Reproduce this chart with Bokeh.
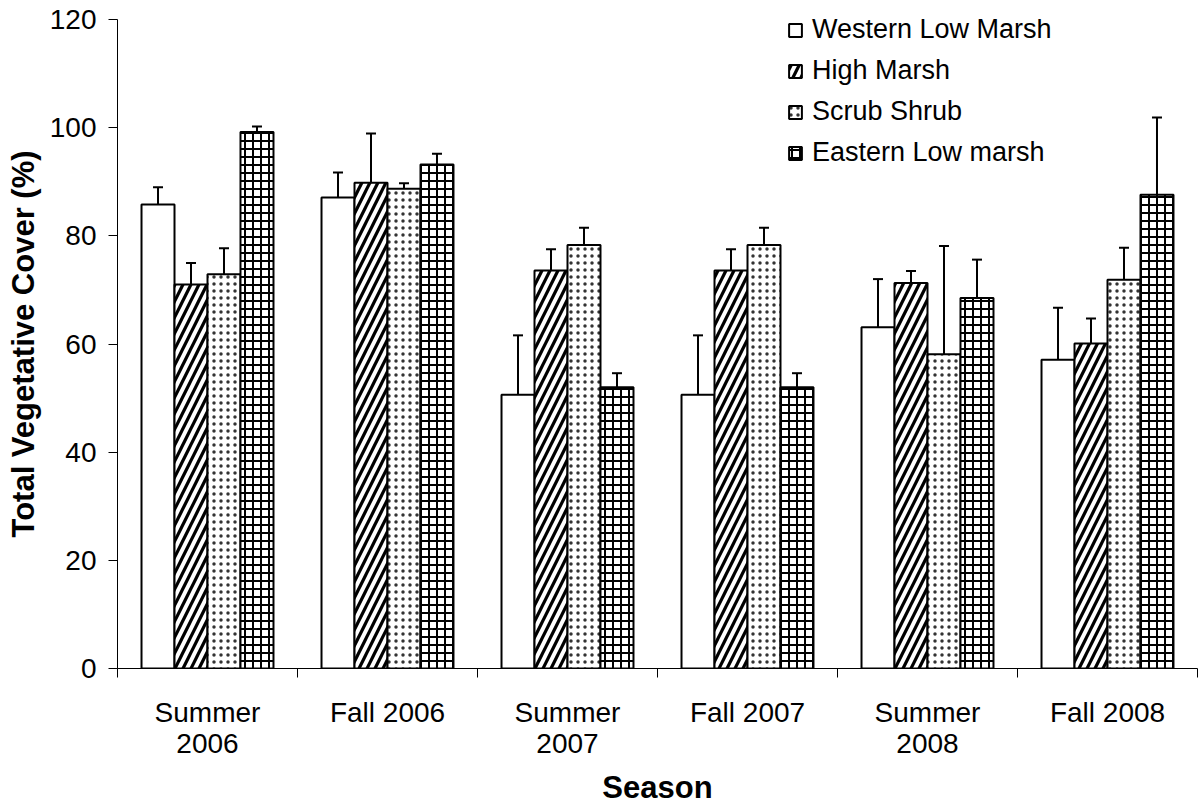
from bokeh.plotting import figure
from bokeh.models import (ColumnDataSource, Range1d, FixedTicker, Whisker, TeeHead,
                          LinearAxis)
from bokeh.embed import file_html
from bokeh.resources import INLINE

# Seasons sampled and mean total vegetative cover (%) with standard error
seasons = ["Summer 2006", "Fall 2006", "Summer 2007", "Fall 2007", "Summer 2008", "Fall 2008"]
season_labels = ["Summer\n2006", "Fall 2006", "Summer\n2007", "Fall 2007", "Summer\n2008", "Fall 2008"]

western = [85.8, 87.1, 50.6, 50.6, 63.1, 57.1]
western_se = [3.2, 4.6, 11.0, 11.0, 8.9, 9.6]
high = [71.0, 89.8, 73.6, 73.6, 71.3, 60.1]
high_se = [4.0, 9.1, 3.9, 3.9, 2.2, 4.6]
scrub = [72.9, 88.7, 78.3, 78.3, 58.1, 71.9]
scrub_se = [4.8, 1.0, 3.2, 3.2, 20.0, 5.9]
eastern = [99.2, 93.2, 52.0, 52.0, 68.5, 87.6]
eastern_se = [1.0, 2.0, 2.6, 2.6, 7.1, 14.3]

y_ticks = [0, 20, 40, 60, 80, 100, 120]

FONT = "Liberation Sans"

p = figure(width=1199, height=809, output_backend="svg", toolbar_location=None,
           x_range=Range1d(0, len(seasons)), y_range=Range1d(0, 120),
           min_border_left=117, min_border_right=2, min_border_top=19,
           min_border_bottom=141, x_axis_type=None, y_axis_type=None)
p.outline_line_color = None
p.grid.visible = False

# y axis
yax = LinearAxis(ticker=FixedTicker(ticks=y_ticks, minor_ticks=[]))
yax.axis_label = "Total Vegetative Cover (%)"
yax.axis_label_text_font = FONT
yax.axis_label_text_font_style = "bold"
yax.axis_label_text_font_size = "31px"
yax.axis_label_text_color = "black"
yax.axis_label_standoff = 6
yax.major_label_text_font = FONT
yax.major_label_text_font_size = "28px"
yax.major_label_text_color = "black"
yax.major_label_standoff = 12
yax.major_tick_out = 9
yax.major_tick_in = 0
yax.axis_line_width = 1
p.add_layout(yax, "left")

# x axis: labels at category centres, tick marks on category boundaries
centers = [i + 0.5 for i in range(len(seasons))]
bounds = [i for i in range(len(seasons) + 1)]
xax = LinearAxis(ticker=FixedTicker(ticks=centers, minor_ticks=bounds))
xax.major_label_overrides = {c: lab for c, lab in zip(centers, season_labels)}
xax.axis_label = "Season"
xax.axis_label_text_font = FONT
xax.axis_label_text_font_style = "bold"
xax.axis_label_text_font_size = "31px"
xax.axis_label_text_color = "black"
xax.axis_label_standoff = 8
xax.major_label_text_font = FONT
xax.major_label_text_font_size = "28px"
xax.major_label_text_color = "black"
xax.major_label_text_line_height = 1.0
xax.major_label_standoff = 19
xax.major_tick_out = 0
xax.major_tick_in = 0
xax.minor_tick_out = 9
xax.minor_tick_in = 0
p.add_layout(xax, "below")

series = [
    ("Western Low Marsh", western, western_se, dict(hatch_pattern=None)),
    ("High Marsh", high, high_se, dict(hatch_pattern="/", hatch_scale=16, hatch_weight=3.2,
                                       hatch_color="black")),
    ("Scrub Shrub", scrub, scrub_se, dict(hatch_pattern=".", hatch_scale=7, hatch_weight=0.8,
                                          hatch_color="#333333")),
    ("Eastern Low marsh", eastern, eastern_se, dict(hatch_pattern="+", hatch_scale=8, hatch_weight=2,
                                                   hatch_color="black")),
]

bar_w = 0.1833
for k, (name, vals, ses, style) in enumerate(series):
    off = (k - 1.5) * bar_w
    src = ColumnDataSource(dict(
        x=[c + off for c in centers],
        top=vals,
        upper=[v + e for v, e in zip(vals, ses)],
    ))
    kw = {a: b for a, b in style.items() if b is not None}
    p.vbar(x="x", top="top", width=bar_w, source=src, fill_color="white",
           line_color="black", line_width=2, legend_label=name, **kw)
    p.add_layout(Whisker(source=src, base="x", lower="top", upper="upper",
                         dimension="height", line_width=2, line_color="black",
                         lower_head=None,
                         upper_head=TeeHead(size=10, line_width=2, line_color="black"),
                         level="overlay"))

lg = p.legend[0]
lg.location = (670, 500)
lg.border_line_color = None
lg.background_fill_alpha = 0
lg.padding = 0
lg.margin = 0
lg.spacing = 10
lg.glyph_width = 16
lg.glyph_height = 16
lg.label_standoff = 9
lg.label_text_font = FONT
lg.label_text_font_size = "27px"
lg.label_text_color = "black"
lg.label_height = 24

open("out.html", "w").write(file_html(p, INLINE))
